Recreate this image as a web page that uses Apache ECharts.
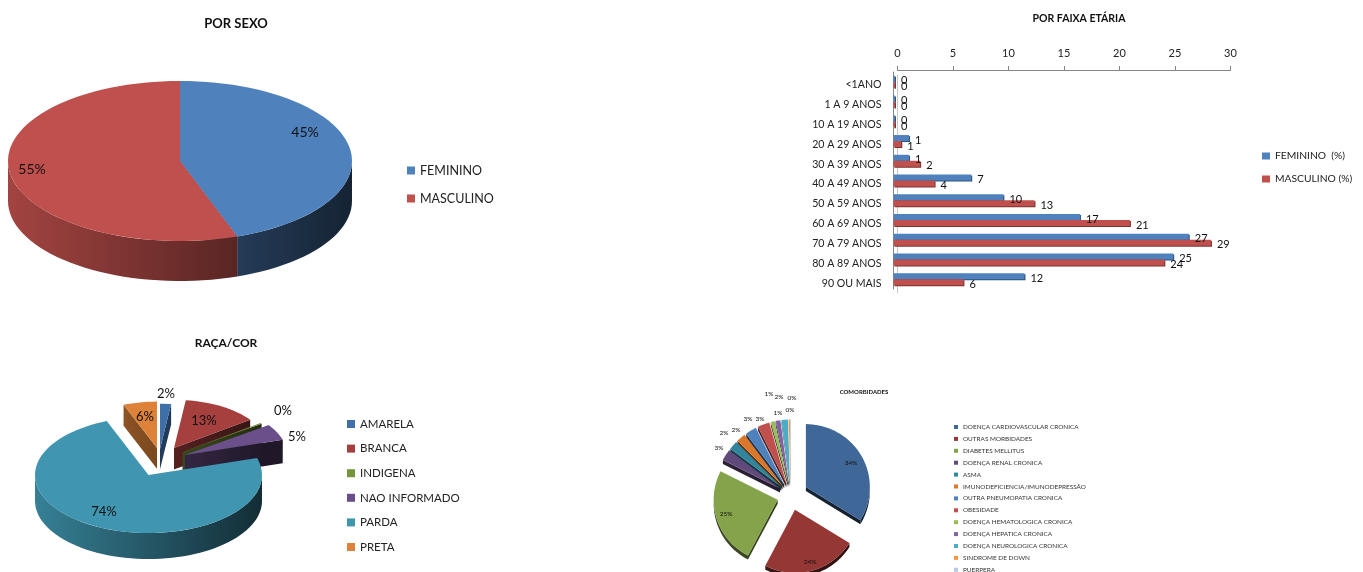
<!DOCTYPE html>
<html>
<head>
<meta charset="utf-8">
<script src="https://cdn.jsdelivr.net/npm/echarts@6/dist/echarts.min.js"></script>
<style>
  html, body { margin: 0; padding: 0; background: #fff; }
  #main { width: 1363px; height: 572px; }
</style>
</head>
<body>
<div id="main"></div>
<script>
// por sexo
const sexoNames = ['FEMININO', 'MASCULINO'];
const sexoValues = [44.6, 55.4];

// por faixa etaria
const faixas = ['<1ANO', '1 A 9 ANOS', '10 A 19 ANOS', '20 A 29 ANOS', '30 A 39 ANOS', '40 A 49 ANOS',
  '50 A 59 ANOS', '60 A 69 ANOS', '70 A 79 ANOS', '80 A 89 ANOS', '90 OU MAIS'];
const femininoValues = [0, 0, 0, 1.4, 1.4, 7.0, 9.9, 16.8, 26.6, 25.2, 11.8];
const masculinoValues = [0, 0, 0, 0.7, 2.4, 3.7, 12.7, 21.3, 28.6, 24.4, 6.3];

// raca/cor
const racaNames = ['AMARELA', 'BRANCA', 'INDIGENA', 'NAO INFORMADO', 'PARDA', 'PRETA'];
const racaValues = [2, 13, 0.3, 5, 73.7, 6];

// comorbidades
const comorbNames = ['DOENÇA CARDIOVASCULAR CRONICA', 'OUTRAS MORBIDADES', 'DIABETES MELLITUS', 'DOENÇA RENAL CRONICA',
  'ASMA', 'IMUNODEFICIENCIA/IMUNODEPRESSÃO', 'OUTRA PNEUMOPATIA CRONICA', 'OBESIDADE', 'DOENÇA HEMATOLOGICA CRONICA',
  'DOENÇA HEPATICA CRONICA', 'DOENÇA NEUROLOGICA CRONICA', 'SINDROME DE DOWN', 'PUERPERA'];
const comorbValues = [33.7, 23.8, 24.7, 2.9, 2.2, 2.3, 2.8, 3.0, 1.0, 1.2, 1.6, 0.3, 0.2];

const FONT = 'Lato';

function shade(hex, f) {
  const n = parseInt(hex.slice(1), 16);
  const c = [n >> 16, (n >> 8) & 255, n & 255].map(v => Math.round(v * f));
  return 'rgb(' + c.join(',') + ')';
}

// ponto na elipse, angulo em graus a partir do topo, sentido horario
function pt(c, rx, ry, deg) {
  const a = deg * Math.PI / 180;
  return [c[0] + rx * Math.sin(a), c[1] - ry * Math.cos(a)];
}

function arc(c, rx, ry, from, to) {
  const pts = [];
  const n = Math.max(1, Math.ceil((to - from) / 3));
  for (let i = 0; i <= n; i++) pts.push(pt(c, rx, ry, from + (to - from) * i / n));
  return pts;
}

function down(pts, d) {
  return pts.map(p => [p[0], p[1] + d]).reverse();
}

// pizza "3D" como serie custom, ordem de desenho de tras para frente
function pieSeries(names, values, colors, cfg) {
  const total = values.reduce((a, b) => a + b, 0);
  let acc = 0;
  const slices = values.map((v, i) => {
    const start = acc / total * 360;
    acc += v;
    return { i: i, start: start, end: acc / total * 360 };
  });
  const wallFill = (color) => ({
    type: 'linear', global: true, x: cfg.cx - cfg.rx, y: 0, x2: cfg.cx + cfg.rx, y2: 0,
    colorStops: [{ offset: 0, color: shade(color, cfg.wallL) }, { offset: 1, color: shade(color, cfg.wallR) }]
  });

  slices.sort((a, b) => Math.cos((b.start + b.end) * Math.PI / 360) - Math.cos((a.start + a.end) * Math.PI / 360));

  return slices.map(s => ({
    type: 'custom',
    name: names[s.i],
    coordinateSystem: 'none',
    silent: true,
    itemStyle: { color: colors[s.i] },
    data: [[values[s.i]]],
    renderItem: function () {
      const mid = (s.start + s.end) / 2;
      const scale = cfg.scale ? cfg.scale[s.i] : 1;
      const rx = cfg.rx * scale, ry = cfg.ry * scale, d = cfg.depth * scale;
      let c = [cfg.cx, cfg.cy];
      if (cfg.shift) c = [c[0] + cfg.shift[s.i][0], c[1] + cfg.shift[s.i][1]];
      if (cfg.explode) c = pt(c, cfg.explode[s.i], cfg.explode[s.i], mid);
      const color = colors[s.i];
      const children = [];
      const wall = pts => children.push({
        type: 'polygon', shape: { points: pts.concat(down(pts, d)) },
        style: { fill: wallFill(color), stroke: null }
      });

      // paredes radiais visiveis
      if (Math.sin(s.start * Math.PI / 180) < 0) wall([c, pt(c, rx, ry, s.start)]);
      if (Math.sin(s.end * Math.PI / 180) > 0) wall([c, pt(c, rx, ry, s.end)]);
      // parede externa, so a metade da frente
      const from = Math.max(s.start, 90), to = Math.min(s.end, 270);
      if (to > from) wall(arc(c, rx, ry, from, to));
      // topo
      children.push({
        type: 'polygon', shape: { points: [c].concat(arc(c, rx, ry, s.start, s.end)) },
        style: { fill: color }
      });
      children.push({
        type: 'text', z2: 100,
        style: {
          x: cfg.labelPos[s.i][0], y: cfg.labelPos[s.i][1],
          text: Math.round(values[s.i] / total * 100) + '%',
          fill: '#111', font: cfg.labelSize + 'px ' + FONT, align: 'center', verticalAlign: 'middle'
        }
      });
      return { type: 'group', children: children };
    }
  }));
}

const sexoSeries = pieSeries(sexoNames, sexoValues, ['#4F81BD', '#C0504D'], {
  cx: 180, cy: 161, rx: 172, ry: 80, depth: 40, wallL: 0.85, wallR: 0.27, labelSize: 14,
  labelPos: [[305, 132], [32, 169]]
});

const racaSeries = pieSeries(racaNames, racaValues, ['#3F6FA8', '#A5403E', '#77933C', '#6B4F8A', '#4096B0', '#DD8238'], {
  cx: 148.5, cy: 475, rx: 113.5, ry: 58, depth: 26, wallL: 0.85, wallR: 0.3, labelSize: 13,
  scale: [0.78, 0.83, 0.85, 0.9, 1, 0.8],
  shift: [[11.5, -26], [25.5, -27], [34, -23], [36.5, -20], [0, 0], [8.5, -27]],
  labelPos: [[166, 394], [204, 421], [283, 411], [297, 437], [104, 512], [145, 417]]
});

const comorbSeries = pieSeries(comorbNames, comorbValues,
  ['#3F6797', '#953735', '#85A34A', '#604A7B', '#31859C', '#D9772B', '#4F81BD', '#C0504D', '#9BBB59', '#8064A2', '#4BACC6', '#F79646', '#B9C9E3'], {
    cx: 791, cy: 495.4, rx: 64, ry: 63, depth: 4, wallL: 0.45, wallR: 0.3, labelSize: 6.5,
    explode: [17, 15, 14, 13, 13, 13, 13, 13, 13, 13, 13, 13, 13],
    labelPos: [[851, 463], [810, 562], [726, 514], [719, 448], [724, 433], [736, 430], [748, 419], [760, 419],
      [769, 394], [778, 413], [779, 397], [792, 398], [790, 410]]
  });

const barLabel = {
  show: true, position: 'right', distance: 6, offset: [0, 2], color: '#111',
  fontFamily: FONT, fontSize: 11, formatter: p => Math.round(p.value)
};

const option = {
  backgroundColor: '#fff',
  animation: false,
  textStyle: { fontFamily: FONT },
  title: [
    { text: 'POR SEXO', left: 231, top: 12, textAlign: 'center', textStyle: { fontFamily: FONT, fontSize: 13, fontWeight: 'bold', color: '#111' } },
    { text: 'POR FAIXA ETÁRIA', left: 1074, top: 8, textAlign: 'center', textStyle: { fontFamily: FONT, fontSize: 10.5, fontWeight: 'bold', color: '#111' } },
    { text: 'RAÇA/COR', left: 221, top: 332, textAlign: 'center', textStyle: { fontFamily: FONT, fontSize: 12, fontWeight: 'bold', color: '#111' } },
    { text: 'COMORBIDADES', left: 859, top: 384, textAlign: 'center', textStyle: { fontFamily: FONT, fontSize: 6, fontWeight: 'bold', color: '#111' } }
  ],
  legend: [
    { data: sexoNames, orient: 'vertical', left: 402, top: 159, icon: 'rect', itemWidth: 8, itemHeight: 8, itemGap: 15, selectedMode: false, textStyle: { fontFamily: FONT, fontSize: 12.5, color: '#222' } },
    { data: ['FEMININO  (%)', 'MASCULINO (%)'], orient: 'vertical', left: 1257, top: 146, icon: 'rect', itemWidth: 8, itemHeight: 7, itemGap: 13, selectedMode: false, textStyle: { fontFamily: FONT, fontSize: 10.3, color: '#222' } },
    { data: racaNames, orient: 'vertical', left: 342, top: 413, icon: 'rect', itemWidth: 8, itemHeight: 8, itemGap: 12.6, selectedMode: false, textStyle: { fontFamily: FONT, fontSize: 11.5, color: '#222' } },
    { data: comorbNames, orient: 'vertical', left: 949, top: 419, height: 200, icon: 'rect', itemWidth: 4, itemHeight: 4, itemGap: 5.9, selectedMode: false, textStyle: { fontFamily: FONT, fontSize: 6.4, color: '#333' } }
  ],
  grid: [
    { left: 893.5, top: 72, width: 333, height: 217 },
    { left: 897.5, top: 75, width: 333, height: 218 }
  ],
  xAxis: [
    { gridIndex: 0, type: 'value', min: 0, max: 30, show: false },
    {
      gridIndex: 1, type: 'value', min: 0, max: 30, interval: 5, position: 'top', offset: 5,
      axisLine: { show: true, onZero: false, lineStyle: { color: '#868686' } },
      axisTick: { show: true, length: 4, lineStyle: { color: '#868686' } },
      axisLabel: { margin: 11, color: '#222', fontFamily: FONT, fontSize: 11 },
      splitLine: { show: false }
    }
  ],
  yAxis: [
    {
      gridIndex: 0, type: 'category', data: faixas, inverse: true,
      axisLine: { show: true, onZero: false, lineStyle: { color: '#868686' } },
      axisTick: { show: false }, axisLabel: { show: false }
    },
    {
      gridIndex: 1, type: 'category', data: faixas, inverse: true,
      axisLine: { show: true, onZero: false, lineStyle: { color: '#c8c8c8' } },
      axisTick: { show: false },
      axisLabel: { margin: 16, color: '#222', fontFamily: FONT, fontSize: 10.6 }
    }
  ],
  series: [
    {
      type: 'bar', name: 'FEMININO  (%)', data: femininoValues, xAxisIndex: 0, yAxisIndex: 0,
      barWidth: 6, barGap: '0%', barMinHeight: 1.5, label: barLabel,
      itemStyle: { color: '#4F81BD', shadowColor: '#2f527c', shadowBlur: 0, shadowOffsetX: 1, shadowOffsetY: 1 }
    },
    {
      type: 'bar', name: 'MASCULINO (%)', data: masculinoValues, xAxisIndex: 0, yAxisIndex: 0,
      barWidth: 6, barGap: '0%', barMinHeight: 1.5, label: barLabel,
      itemStyle: { color: '#C0504D', shadowColor: '#7c3331', shadowBlur: 0, shadowOffsetX: 1, shadowOffsetY: 1 }
    }
  ].concat(sexoSeries, racaSeries, comorbSeries)
};

const chart = echarts.init(document.getElementById('main'));
chart.setOption(option);
</script>
</body>
</html>
